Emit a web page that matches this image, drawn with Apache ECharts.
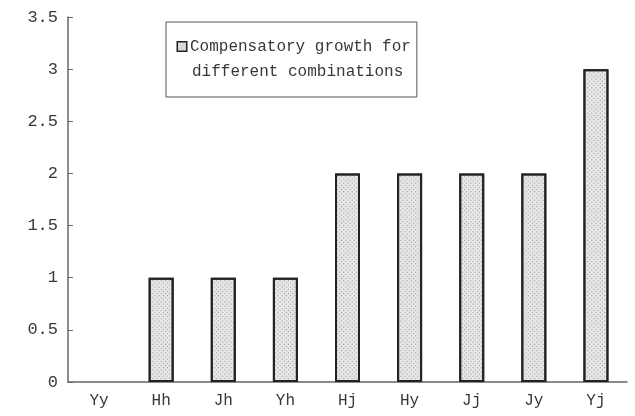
<!DOCTYPE html>
<html>
<head>
<meta charset="utf-8">
<script src="https://cdn.jsdelivr.net/npm/echarts@6/dist/echarts.min.js"></script>
<style>
  html, body { margin: 0; padding: 0; background: #fff; }
  #chart { width: 635px; height: 416px; }
</style>
</head>
<body>
<div id="chart"></div>
<script>
// categories and values
const combos = ["Yy", "Hh", "Jh", "Yh", "Hj", "Hy", "Jj", "Jy", "Yj"];
const growth = [0, 1, 1, 1, 2, 2, 2, 2, 3];
const seriesName = "Compensatory growth for different combinations";

const font = "Liberation Mono";
const ink = "#383838";

const chart = echarts.init(document.getElementById("chart"));

// a zero bar has no visible outline in the original
const barData = growth.map((v) =>
  v === 0 ? { value: v, itemStyle: { borderWidth: 0 } } : v
);

const option = {
  animation: false,
  grid: { left: 68, right: 8, top: 17, bottom: 34 },
  legend: {
    left: 166,
    top: 22,
    orient: "vertical",
    padding: [12, 6, 13, 7],
    borderColor: "#555",
    borderWidth: 1,
    itemWidth: 0,
    itemHeight: 0,
    data: [{ name: seriesName, icon: "none" }],
    formatter: () =>
      "{i|}{g|}{t|Compensatory growth for}\n{s|}{t|different combinations}",
    textStyle: {
      color: ink,
      fontFamily: font,
      fontSize: 16,
      lineHeight: 25,
      rich: {
        i: {
          width: 8,
          height: 8,
          backgroundColor: "#d8d8d8",
          borderColor: "#222",
          borderWidth: 1.5
        },
        g: { width: 4 },
        s: { width: 14 },
        t: { fontFamily: font, fontSize: 16, lineHeight: 25, color: ink }
      }
    }
  },
  xAxis: {
    type: "category",
    data: combos,
    axisLine: { lineStyle: { color: "#666", width: 1.5 } },
    axisTick: { inside: true, length: 5, lineStyle: { color: "#666" } },
    axisLabel: { color: ink, fontFamily: font, fontSize: 16, margin: 11 }
  },
  yAxis: {
    type: "value",
    min: 0,
    max: 3.5,
    interval: 0.5,
    splitLine: { show: false },
    axisLine: { show: true, lineStyle: { color: "#666", width: 1.5 } },
    axisTick: { show: true, inside: true, length: 5, lineStyle: { color: "#666" } },
    axisLabel: { color: ink, fontFamily: font, fontSize: 17, margin: 10 }
  },
  series: [
    {
      name: seriesName,
      type: "bar",
      data: barData,
      barWidth: 25,
      itemStyle: {
        color: "#e6e6e6",
        borderColor: "#222",
        borderWidth: 2,
        decal: {
          symbol: "rect",
          symbolSize: 1,
          dashArrayX: [1, 2],
          dashArrayY: [1, 2],
          rotation: Math.PI / 4,
          color: "#9a9a9a"
        }
      }
    }
  ]
};

chart.setOption(option);
</script>
</body>
</html>
